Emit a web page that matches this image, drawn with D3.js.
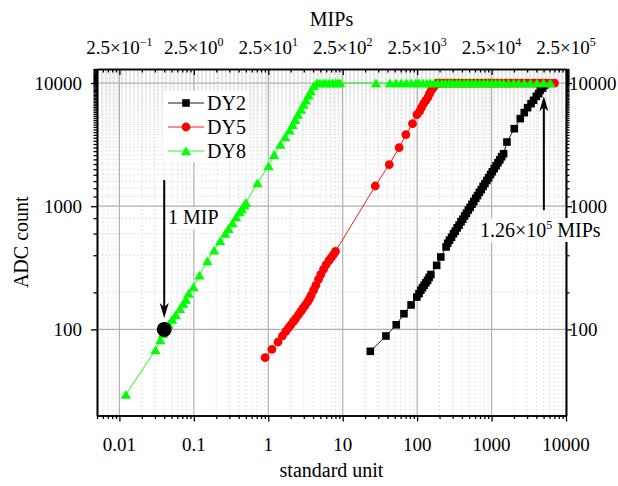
<!DOCTYPE html>
<html>
<head>
<meta charset="utf-8">
<script src="https://cdn.jsdelivr.net/npm/d3@7"></script>
<style>
  html, body { margin: 0; padding: 0; background: #fff; }
  svg { display: block; }
  text { font-family: "Liberation Serif", "Times New Roman", serif; fill: #000; }
</style>
</head>
<body>
<svg id="chart" width="618" height="486"></svg>
<script>
// ---- data (standard unit vs ADC count) ----
const dy2X = [23.5, 38.1, 52.4, 66.5, 83, 99, 106, 112, 118, 124, 131, 138, 145, 153, 183, 208, 245,
  257, 272, 290, 308, 326, 345, 366, 388, 410, 435, 460, 487, 515, 545, 578, 612, 648, 686, 727, 770,
  815, 863, 914, 968, 1025, 1086, 1150, 1218, 1290, 1366, 1450,
  1610, 2020, 2430, 2750, 3050, 3390, 3670, 3990, 4290, 4520, 4850, 5150, 5450, 5800];
const dy2Y = [66.4, 88.4, 109, 134, 158, 183, 195, 208, 218, 228, 239, 250, 264, 279, 331, 387, 467,
  500, 530, 560, 598, 627, 667, 702, 747, 784, 834, 876, 930, 978, 1037, 1094, 1160, 1221, 1296, 1365, 1449,
  1525, 1618, 1705, 1808, 1905, 2021, 2130, 2257, 2380, 2522, 2670,
  3320, 4260, 5140, 5750, 6310, 6800, 7240, 7800, 8200, 8730, 9100, 9580, 10000, 10000];

const dy5X = [0.908, 1.12, 1.35, 1.55, 1.72, 1.87, 2.01, 2.18, 2.35, 2.55, 2.74, 2.92, 3.13, 3.37, 3.58,
  3.77, 4.06, 4.36, 4.73, 5.09, 5.52, 6.0, 6.53, 7.0, 7.52, 8.0,
  27.4, 42.2, 57.4, 70.6, 86.7, 99.3, 108, 114, 122, 131, 140, 147, 155, 163, 171, 178,
  185, 195, 205, 220, 235, 250, 270, 290, 315, 340, 370, 400, 430, 470, 510, 550, 600, 650, 700, 760,
  830, 900, 980, 1060, 1150, 1250, 1360, 1480, 1600, 1750, 1900, 2100, 2300, 2550, 2800, 3100, 3450,
  3850, 4300, 4800, 5400, 6100, 7000];
const dy5Y = [59, 68.9, 79, 88.4, 96.5, 103, 109, 116, 123, 132, 140, 148, 157, 167, 178,
  189, 208, 228, 255, 280, 307, 336, 361, 383, 405, 430,
  1459, 2180, 2990, 3810, 4680, 5530, 5900, 6310, 6800, 7240, 7700, 8200, 8730, 9100, 9460, 9750,
  10000, 10000, 10000, 10000, 10000, 10000, 10000, 10000, 10000, 10000, 10000, 10000, 10000, 10000, 10000, 10000, 10000, 10000, 10000, 10000,
  10000, 10000, 10000, 10000, 10000, 10000, 10000, 10000, 10000, 10000, 10000, 10000, 10000, 10000, 10000, 10000, 10000,
  10000, 10000, 10000, 10000, 10000, 10000];

const dy8X = [0.0122, 0.0305, 0.0355, 0.0385, 0.041, 0.046, 0.051, 0.057, 0.065, 0.072, 0.078, 0.085,
  0.099, 0.119, 0.152, 0.187, 0.226, 0.264, 0.292, 0.330, 0.370, 0.410, 0.440, 0.474, 0.500,
  0.716, 1.007, 1.20, 1.45, 1.69, 1.93, 2.12, 2.30, 2.50, 2.74, 2.97, 3.20, 3.47, 3.74, 4.06,
  4.50, 4.95, 5.5, 6.0, 6.6, 7.3, 8.0, 8.6, 9.25,
  28, 43, 52, 61, 72, 83, 96,
  106, 120, 135, 150, 170, 190, 215, 240, 270, 300,
  340, 380, 430, 480, 540, 610, 690, 780, 880, 1000,
  1130, 1280, 1450, 1690, 1980, 2310, 2750, 3320, 4070, 5000, 6160];
const dy8Y = [29.6, 68, 82, 92, 100, 110, 120, 131, 147, 162, 175, 195,
  221, 275, 359, 439, 522, 599, 657, 731, 817, 897, 950, 1016, 1070,
  1542, 2120, 2620, 3160, 3650, 4130, 4590, 5040, 5540, 6080, 6680, 7240, 7950, 8610, 9460,
  10000, 10000, 10000, 10000, 10000, 10000, 10000, 10000, 10000,
  10000, 10000, 10000, 10000, 10000, 10000, 10000,
  10000, 10000, 10000, 10000, 10000, 10000, 10000, 10000, 10000, 10000,
  10000, 10000, 10000, 10000, 10000, 10000, 10000, 10000, 10000, 10000,
  10000, 10000, 10000, 10000, 10000, 10000, 10000, 10000, 10000, 10000, 10000];

const seriesNames = ["DY2", "DY5", "DY8"];
const seriesColors = ["#000000", "#ff0000", "#00ff00"];
const seriesShapes = ["square", "circle", "triangle"];

// axis ticks and labels
const xMajor = [0.01, 0.1, 1, 10, 100, 1000, 10000];
const xLabels = ["0.01", "0.1", "1", "10", "100", "1000", "10000"];
const yMajor = [100, 1000, 10000];
const yLabels = ["100", "1000", "10000"];
const mipPerUnit = 25;                      // 1 MIP = 0.04 standard unit
const topTickMantissa = "2.5";
const topTickExponents = ["\u22121", "0", "1", "2", "3", "4", "5"];

// annotations
const mipPoint = { x: 0.04, y: 100 };
const mipArrow = { x: 0.04, from: 1630, to: 124 };
const satArrow = { x: 5040, from: 930, to: 7800 };

// ---- scales ----
const svg = d3.select("#chart");
const plot = { left: 97, right: 566, top: 69, bottom: 415.5 };
const x = d3.scaleLog().domain([0.005, 10000]).range([plot.left, plot.right]);
const y = d3.scaleLog().domain([20, 13000]).range([plot.bottom, plot.top]);

function minorTicks(scale) {
  const [a, b] = scale.domain();
  return scale.ticks(60).filter(v => {
    const m = v / Math.pow(10, Math.floor(Math.log10(v) + 1e-9));
    return Math.abs(m - 1) > 1e-6 && v >= a * 0.999 && v <= b * 1.001;
  });
}
const xMinor = minorTicks(x);
const yMinor = minorTicks(y);

// ---- grid ----
const grid = svg.append("g");
grid.selectAll(".gxm").data(xMinor).join("line")
  .attr("x1", d => x(d)).attr("x2", d => x(d)).attr("y1", plot.top).attr("y2", plot.bottom)
  .attr("stroke", "#dcdcdc").attr("stroke-width", 0.8).attr("stroke-dasharray", "2,2");
grid.selectAll(".gym").data(yMinor).join("line")
  .attr("y1", d => y(d)).attr("y2", d => y(d)).attr("x1", plot.left).attr("x2", plot.right)
  .attr("stroke", "#dcdcdc").attr("stroke-width", 0.8).attr("stroke-dasharray", "2,2");
grid.selectAll(".gx").data(xMajor).join("line")
  .attr("x1", d => x(d)).attr("x2", d => x(d)).attr("y1", plot.top).attr("y2", plot.bottom)
  .attr("stroke", "#b0b0b0").attr("stroke-width", 1.2);
grid.selectAll(".gy").data(yMajor).join("line")
  .attr("y1", d => y(d)).attr("y2", d => y(d)).attr("x1", plot.left).attr("x2", plot.right)
  .attr("stroke", "#b0b0b0").attr("stroke-width", 1.2);

// ---- series ----
function symbolPath(shape) {
  if (shape === "square") return "M-3.8,-3.8H3.8V3.8H-3.8Z";
  if (shape === "circle") return "M4.4,0A4.4,4.4 0 1,1 -4.4,0A4.4,4.4 0 1,1 4.4,0Z";
  return "M0,-4.6L5.2,4.2L-5.2,4.2Z";
}
const allX = [dy2X, dy5X, dy8X];
const allY = [dy2Y, dy5Y, dy8Y];
const line = d3.line().x(d => x(d[0])).y(d => y(d[1]));

seriesNames.forEach((name, i) => {
  const pts = allX[i].map((v, j) => [v, allY[i][j]]);
  const g = svg.append("g");
  g.append("path").datum(pts).attr("d", line)
    .attr("fill", "none").attr("stroke", seriesColors[i]).attr("stroke-width", 0.9);
  g.selectAll("path.m").data(pts).join("path").attr("class", "m")
    .attr("transform", d => `translate(${x(d[0])},${y(d[1])})`)
    .attr("d", symbolPath(seriesShapes[i]))
    .attr("fill", seriesColors[i]);
});

// ---- axes ----
function styleAxis(g) {
  g.select(".domain").attr("stroke", "#000").attr("stroke-width", 1.6);
  g.selectAll(".tick line").attr("stroke", "#000").attr("stroke-width", 1.3);
  g.selectAll(".tick text").remove();
}
const axes = svg.append("g");
// bottom
axes.append("g").attr("transform", `translate(0,${plot.bottom})`)
  .call(d3.axisBottom(x).tickValues(xMinor).tickSize(3.5).tickSizeOuter(0)).call(styleAxis);
axes.append("g").attr("transform", `translate(0,${plot.bottom})`)
  .call(d3.axisBottom(x).tickValues(xMajor).tickSize(6).tickSizeOuter(0)).call(styleAxis);
// top (ticks inward)
axes.append("g").attr("transform", `translate(0,${plot.top})`)
  .call(d3.axisTop(x).tickValues(xMinor).tickSize(-3.5).tickSizeOuter(0)).call(styleAxis);
axes.append("g").attr("transform", `translate(0,${plot.top})`)
  .call(d3.axisTop(x).tickValues(xMajor).tickSize(-6).tickSizeOuter(0)).call(styleAxis);
// left
axes.append("g").attr("transform", `translate(${plot.left},0)`)
  .call(d3.axisLeft(y).tickValues(yMinor).tickSize(3.5).tickSizeOuter(0)).call(styleAxis);
axes.append("g").attr("transform", `translate(${plot.left},0)`)
  .call(d3.axisLeft(y).tickValues(yMajor).tickSize(6).tickSizeOuter(0)).call(styleAxis);
// right
axes.append("g").attr("transform", `translate(${plot.right},0)`)
  .call(d3.axisRight(y).tickValues(yMinor).tickSize(3.5).tickSizeOuter(0)).call(styleAxis);
axes.append("g").attr("transform", `translate(${plot.right},0)`)
  .call(d3.axisRight(y).tickValues(yMajor).tickSize(6).tickSizeOuter(0)).call(styleAxis);

// tick labels
const fs = 20, tfs = 19;
svg.append("g").selectAll("text").data(xMajor).join("text")
  .attr("x", d => x(d)).attr("y", 451).attr("text-anchor", "middle")
  .attr("font-size", tfs).text((d, i) => xLabels[i]);
svg.append("g").selectAll("text").data(yMajor).join("text")
  .attr("x", plot.left - 15).attr("y", d => y(d) + 7).attr("text-anchor", "end")
  .attr("font-size", tfs).text((d, i) => yLabels[i]);
svg.append("g").selectAll("text").data(yMajor).join("text")
  .attr("x", plot.right + 3).attr("y", d => y(d) + 7).attr("text-anchor", "start")
  .attr("font-size", tfs).text((d, i) => yLabels[i]);

// top axis labels in MIPs
const topTicksMIP = xMajor.map(v => v * mipPerUnit);
const topG = svg.append("g").selectAll("text").data(topTicksMIP).join("text")
  .attr("x", d => x(d / mipPerUnit)).attr("y", 54).attr("text-anchor", "middle").attr("font-size", tfs);
topG.append("tspan").text(topTickMantissa + "\u00d710");
topG.append("tspan").attr("font-size", 12).attr("dy", -8).text((d, i) => topTickExponents[i]);

// axis titles
svg.append("text").attr("x", (plot.left + plot.right) / 2).attr("y", 477)
  .attr("text-anchor", "middle").attr("font-size", fs).text("standard unit");
svg.append("text").attr("x", (plot.left + plot.right) / 2).attr("y", 26)
  .attr("text-anchor", "middle").attr("font-size", fs).text("MIPs");
svg.append("text").attr("transform", `translate(28,${(plot.top + plot.bottom) / 2}) rotate(-90)`)
  .attr("text-anchor", "middle").attr("font-size", fs).text("ADC count");

// ---- legend ----
const leg = svg.append("g");
leg.append("rect").attr("x", 163).attr("y", 91).attr("width", 86).attr("height", 71).attr("fill", "#fff");
seriesNames.forEach((name, i) => {
  const cy = 103 + i * 24;
  leg.append("line").attr("x1", 168).attr("x2", 204).attr("y1", cy).attr("y2", cy)
    .attr("stroke", seriesColors[i]).attr("stroke-width", 0.9);
  leg.append("path").attr("transform", `translate(186,${cy})`)
    .attr("d", symbolPath(seriesShapes[i])).attr("fill", seriesColors[i]);
  leg.append("text").attr("x", 207).attr("y", cy + 7).attr("font-size", fs).text(name);
});

// ---- annotations ----
function arrow(ax, fromV, toV) {
  const xp = x(ax), y0 = y(fromV), y1 = y(toV);
  const dir = y1 > y0 ? 1 : -1;
  const head = 15, half = 4.5;
  svg.append("line").attr("x1", xp).attr("x2", xp).attr("y1", y0).attr("y2", y1 - dir * (head - 4))
    .attr("stroke", "#000").attr("stroke-width", 2);
  svg.append("path")
    .attr("d", `M${xp},${y1} L${xp - half},${y1 - dir * head} L${xp},${y1 - dir * (head - 4)} L${xp + half},${y1 - dir * head} Z`)
    .attr("fill", "#000");
}
// 1 MIP marker
arrow(mipArrow.x, mipArrow.from, mipArrow.to);
svg.append("circle").attr("cx", x(mipPoint.x)).attr("cy", y(mipPoint.y)).attr("r", 7.5).attr("fill", "#000");
svg.append("rect").attr("x", 167).attr("y", 207).attr("width", 52).attr("height", 22).attr("fill", "#fff");
svg.append("text").attr("x", 168).attr("y", 224).attr("font-size", fs).text("1 MIP");

// saturation marker
arrow(satArrow.x, satArrow.from, satArrow.to);
svg.append("rect").attr("x", 478).attr("y", 218).attr("width", 128).attr("height", 24).attr("fill", "#fff");
const satText = svg.append("text").attr("x", 480).attr("y", 237).attr("font-size", fs);
satText.append("tspan").text("1.26\u00d710");
satText.append("tspan").attr("font-size", 12).attr("dy", -8).text("5");
satText.append("tspan").attr("dy", 8).text(" MIPs");
</script>
</body>
</html>
